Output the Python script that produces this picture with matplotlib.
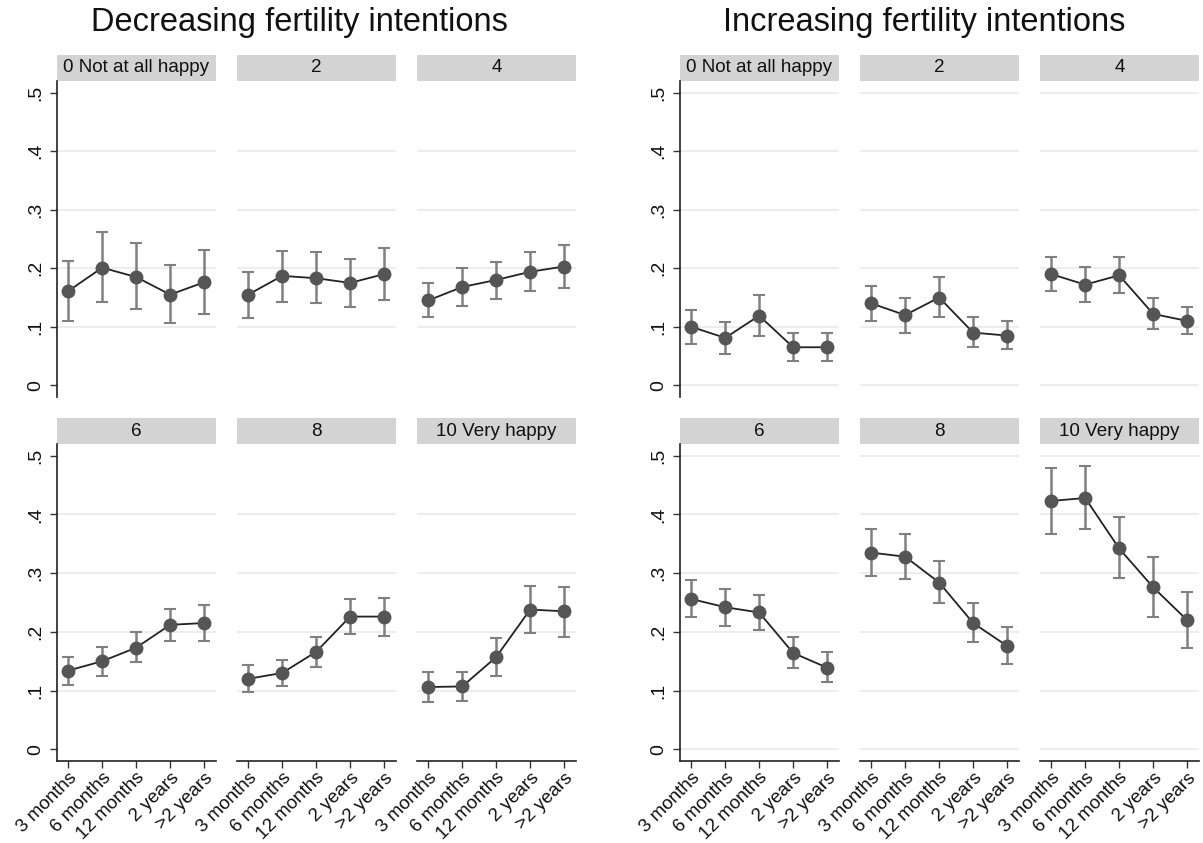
import matplotlib
matplotlib.use("Agg")
import matplotlib.pyplot as plt
from matplotlib.patches import Rectangle
import numpy as np

plt.rcParams['font.family'] = ['Liberation Sans', 'DejaVu Sans']

durations = ["3 months", "6 months", "12 months", "2 years", ">2 years"]
panel_titles = ["0 Not at all happy", "2", "4", "6", "8", "10 Very happy"]
group_titles = ["Decreasing fertility intentions", "Increasing fertility intentions"]

# decreasing fertility intentions: estimate, lower CI, upper CI
dec_est = [
    [0.161, 0.201, 0.185, 0.155, 0.176],
    [0.155, 0.187, 0.183, 0.175, 0.190],
    [0.145, 0.168, 0.180, 0.194, 0.203],
    [0.134, 0.150, 0.173, 0.212, 0.215],
    [0.120, 0.130, 0.166, 0.226, 0.226],
    [0.106, 0.107, 0.157, 0.238, 0.235],
]
dec_lo = [
    [0.110, 0.142, 0.131, 0.107, 0.121],
    [0.115, 0.143, 0.140, 0.134, 0.145],
    [0.116, 0.136, 0.147, 0.161, 0.167],
    [0.110, 0.125, 0.148, 0.184, 0.185],
    [0.098, 0.107, 0.140, 0.196, 0.193],
    [0.080, 0.083, 0.125, 0.198, 0.192],
]
dec_hi = [
    [0.213, 0.262, 0.243, 0.205, 0.231],
    [0.193, 0.230, 0.227, 0.215, 0.235],
    [0.174, 0.200, 0.211, 0.228, 0.239],
    [0.157, 0.174, 0.200, 0.239, 0.246],
    [0.143, 0.152, 0.192, 0.256, 0.258],
    [0.132, 0.131, 0.190, 0.278, 0.277],
]

# increasing fertility intentions
inc_est = [
    [0.100, 0.081, 0.119, 0.065, 0.065],
    [0.140, 0.120, 0.150, 0.090, 0.085],
    [0.190, 0.172, 0.188, 0.122, 0.110],
    [0.256, 0.242, 0.233, 0.164, 0.139],
    [0.335, 0.328, 0.284, 0.215, 0.176],
    [0.423, 0.428, 0.342, 0.276, 0.220],
]
inc_lo = [
    [0.071, 0.054, 0.084, 0.041, 0.042],
    [0.110, 0.090, 0.117, 0.065, 0.062],
    [0.161, 0.142, 0.158, 0.097, 0.087],
    [0.225, 0.210, 0.203, 0.138, 0.115],
    [0.295, 0.290, 0.250, 0.182, 0.145],
    [0.367, 0.375, 0.291, 0.225, 0.172],
]
inc_hi = [
    [0.129, 0.109, 0.155, 0.090, 0.090],
    [0.170, 0.150, 0.185, 0.116, 0.110],
    [0.220, 0.203, 0.219, 0.149, 0.134],
    [0.288, 0.273, 0.263, 0.191, 0.166],
    [0.376, 0.367, 0.320, 0.250, 0.209],
    [0.479, 0.482, 0.395, 0.328, 0.268],
]

W, H = 1203, 843
fig = plt.figure(figsize=(W / 100, H / 100), dpi=100)
fig.patch.set_facecolor("white")

col_x = [[57, 237, 417], [680, 860, 1040]]
col_w = 159
row_y = [(81, 397), (444, 761)]
strip_h = 26
title_x = [299, 924]

groups = [(dec_est, dec_lo, dec_hi), (inc_est, inc_lo, inc_hi)]
x = np.arange(1, 6)

for g in range(2):
    est, lo, hi = groups[g]
    for k in range(6):
        r, c = divmod(k, 3)
        top, bot = row_y[r]
        left = col_x[g][c]
        ax = fig.add_axes([left / W, 1 - bot / H, col_w / W, (bot - top) / H])
        ax.set_xlim(0.67, 5.35)
        ax.set_ylim(-0.02, 0.52)

        # gridlines (left group has none at 0 and .5)
        grid_vals = [0.1, 0.2, 0.3, 0.4] if g == 0 else [0, 0.1, 0.2, 0.3, 0.4, 0.5]
        for gv in grid_vals:
            ax.axhline(gv, color="#eaeaea", lw=1.2, zorder=0)

        e = np.array(est[k])
        yerr = [e - np.array(lo[k]), np.array(hi[k]) - e]
        ax.errorbar(x, e, yerr=yerr, fmt="none", ecolor="#808080", elinewidth=1.8,
                    capsize=4.5, capthick=1.5, zorder=2)
        ax.plot(x, e, color="#222222", lw=1.3, zorder=3)
        ax.plot(x, e, "o", color="#555555", ms=9, zorder=4)

        for s in ["top", "right"]:
            ax.spines[s].set_visible(False)
        ax.spines["left"].set_visible(c == 0)
        ax.spines["bottom"].set_visible(r == 1)
        for s in ["left", "bottom"]:
            ax.spines[s].set_color("#222222")
            ax.spines[s].set_linewidth(1.2)

        ax.set_yticks([0, 0.1, 0.2, 0.3, 0.4, 0.5])
        if c == 0:
            ax.set_yticklabels(["0", ".1", ".2", ".3", ".4", ".5"], rotation=90,
                               va="center", fontsize=14, color="#111111")
            ax.tick_params(axis="y", length=5, width=1, color="#333333", pad=4)
        else:
            ax.tick_params(axis="y", left=False, labelleft=False)

        ax.set_xticks(x)
        if r == 1:
            ax.set_xticklabels(durations, rotation=45, ha="right",
                               rotation_mode="anchor", fontsize=13.5, color="#111111")
            ax.tick_params(axis="x", length=5, width=1, color="#333333", pad=1)
        else:
            ax.tick_params(axis="x", bottom=False, labelbottom=False)

        # header strip
        sh = strip_h / (bot - top)
        ax.add_patch(Rectangle((0, 1), 1, sh, transform=ax.transAxes,
                               facecolor="#d3d3d3", edgecolor="none", clip_on=False))
        ax.text(0.5, 1 + sh / 2, panel_titles[k], transform=ax.transAxes,
                ha="center", va="center", fontsize=13.6, color="#111111")

    fig.text(title_x[g] / W, 1 - 23 / H, group_titles[g], ha="center", va="center",
             fontsize=23.5, color="#111111")

fig.savefig("out.png", dpi=100)
